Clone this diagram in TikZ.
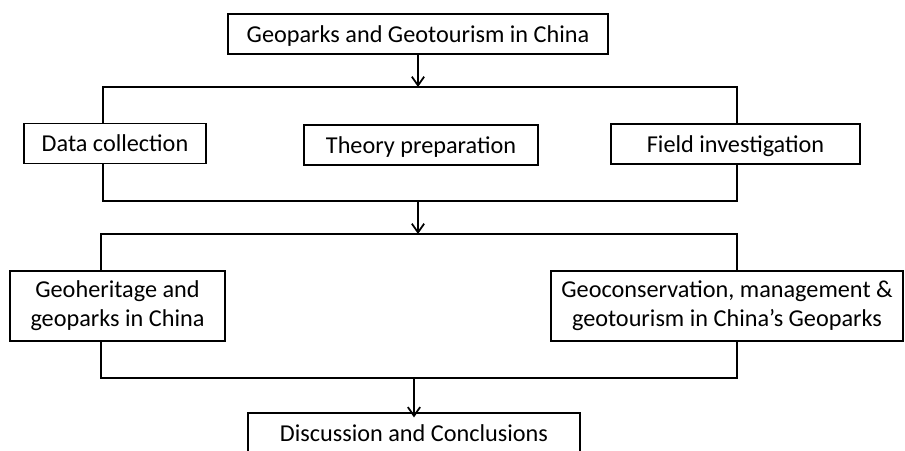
\documentclass[tikz,border=0pt]{standalone}
\usepackage{fontspec}
\setmainfont{Carlito}
\usetikzlibrary{positioning,arrows.meta}

\tikzset{
	stage/.style={draw, line width=1pt, align=center, minimum height=0.8cm,
		inner sep=2pt, font=\fontsize{13.8}{16.5}\selectfont},
	oneline/.style={text height=2.3ex, text depth=0.3ex},
	link/.style={line width=1pt},
	step arrow/.style={-{Straight Barb[length=5pt,width=7pt]}, line width=1pt},
}

\begin{document}
\begin{tikzpicture}[x=0.02cm,y=-0.02cm]
		\useasboundingbox (0,0) rectangle (905,450);
		
		% boxes
		\node [stage, oneline, minimum width=7.6cm] (top) at (418,34) {Geoparks and Geotourism in China};
		\node [stage, oneline, minimum width=3.64cm] (data) at (115,143.5) {Data collection};
		\node [stage, oneline, minimum width=4.68cm] (theory) at (421,145) {Theory preparation};
		\node [stage, oneline, minimum width=4.98cm] (field) at (735.5,144) {Field investigation};
		\node [stage, minimum width=4.3cm, minimum height=1.4cm] (heritage) at (117.5,306) {Geoheritage and\\geoparks in China};
		\node [stage, minimum width=7.04cm, minimum height=1.4cm] (conserv) at (727,306) {Geoconservation, management \&\\geotourism in China’s Geoparks};
		\node [stage, oneline, minimum width=6.64cm] (disc) at (414,433) {Discussion and Conclusions};
		
		% bus lines
		\coordinate (a1) at (103,87);
		\coordinate (a2) at (737,87);
		\coordinate (b1) at (103,201);
		\coordinate (b2) at (737,201);
		\coordinate (c1) at (101,234);
		\coordinate (c2) at (737,234);
		\coordinate (d1) at (101,378);
		\coordinate (d2) at (737,378);
		
		\draw [step arrow] (top) -- (top |- a1);
		\draw [link] (data.north -| a1) -- (a1) -- (a2) -- (field.north -| a2);
		\draw [link] (data.south -| b1) -- (b1) -- (b2) -- (field.south -| b2);
		
		\draw [step arrow] (top |- b1) -- (top |- c1);
		\draw [link] (heritage.north -| c1) -- (c1) -- (c2) -- (conserv.north -| c2);
		\draw [link] (heritage.south -| d1) -- (d1) -- (d2) -- (conserv.south -| d2);
		
		\draw [step arrow] (disc |- d1) -- ([yshift=-3pt]disc.north);
	\end{tikzpicture}
\end{document}
